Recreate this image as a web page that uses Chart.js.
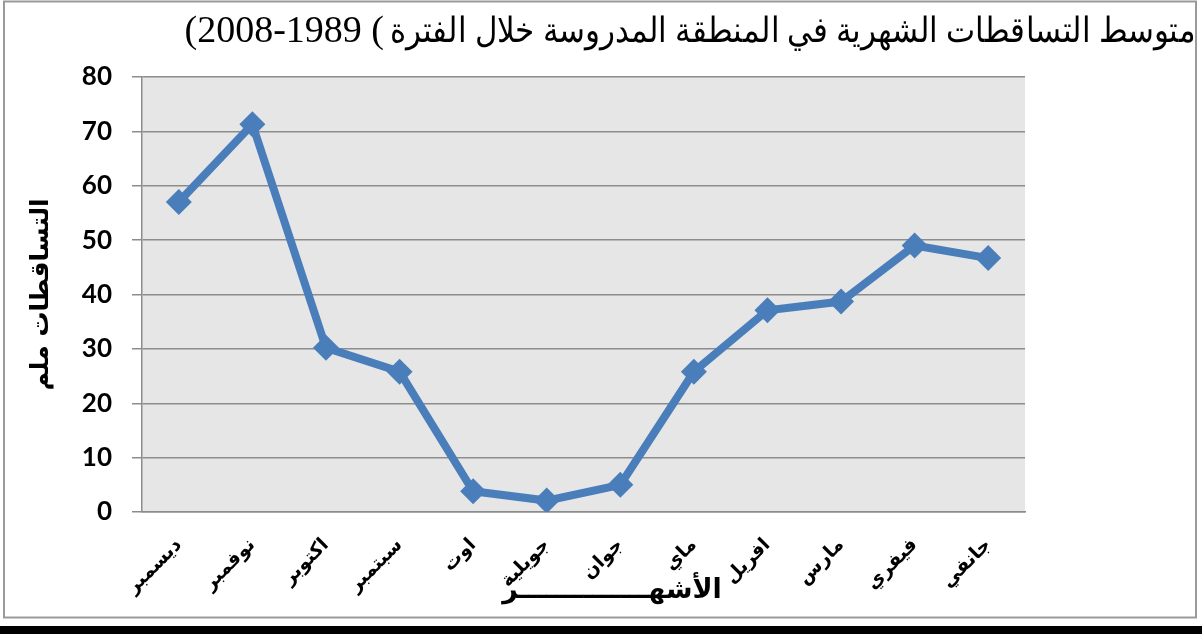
<!DOCTYPE html>
<html>
<head>
<meta charset="utf-8">
<script src="https://cdn.jsdelivr.net/npm/chart.js@4"></script>
<style>
html, body { margin: 0; padding: 0; background: #fff; }
canvas { display: block; }
</style>
</head>
<body>
<canvas id="chart" width="1202" height="634"></canvas>
<script>
// months as they appear left to right on the axis
const months = ['ديسمبر', 'نوفمبر', 'اكتوبر', 'سبتمبر', 'اوت', 'جويلية', 'جوان', 'ماي', 'افريل', 'مارس', 'فيفري', 'جانفي'];
// mean monthly rainfall (mm)
const rainfall = [57.0, 71.3, 30.2, 25.8, 3.8, 2.1, 5.0, 25.8, 37.1, 38.7, 49.0, 46.7];
const yMin = 0;
const yMax = 80;
const yStep = 10;

const titleArabic = 'متوسط التساقطات الشهرية في المنطقة المدروسة خلال الفترة';
// years part kept left-to-right with LRM marks so the brackets are not mirrored
const titleYears = '\u200E(2008-1989 (\u200E';
const yTitle = 'التساقطات ملم';
const xTitle = 'الأشهــــــــــــــر';

const lineBlue = '#4a7ebb';

// frame, plot background and the free-standing texts
const decorPlugin = {
    id: 'decor',
    beforeDraw(chart) {
        const ctx = chart.ctx;
        const a = chart.chartArea;
        ctx.save();
        ctx.fillStyle = '#e6e6e6';
        ctx.fillRect(a.left, a.top, a.right - a.left, a.bottom - a.top);
        ctx.strokeStyle = '#9a9a9a';
        ctx.lineWidth = 2;
        ctx.strokeRect(4, 1.5, 1192, 616);
        ctx.fillStyle = '#000';
        ctx.fillRect(0, 626, 1202, 8);
        ctx.restore();
    },
    afterDraw(chart) {
        const ctx = chart.ctx;
        const a = chart.chartArea;
        ctx.save();
        ctx.fillStyle = '#000';
        ctx.textBaseline = 'alphabetic';

        // title: arabic part squeezed a little to the width it takes in the picture
        ctx.font = '35px "Liberation Serif", "DejaVu Serif", serif';
        ctx.textAlign = 'right';
        const w = ctx.measureText(titleArabic).width;
        const arabicWidth = 806;
        ctx.save();
        ctx.translate(1196, 42);
        ctx.scale(Math.min(1, arabicWidth / w), 1);
        ctx.fillText(titleArabic, 0, 0);
        ctx.restore();
        ctx.font = '38px "Liberation Serif", serif';
        ctx.fillText(titleYears, 1196 - Math.min(w, arabicWidth) - 6, 42);

        // y axis title
        ctx.font = 'bold 25px "DejaVu Sans", sans-serif';
        ctx.textAlign = 'center';
        ctx.translate(48, (a.top + a.bottom) / 2);
        ctx.rotate(-Math.PI / 2);
        ctx.fillText(yTitle, 0, 0);
        ctx.restore();

        // x axis title
        ctx.save();
        ctx.font = 'bold 27px "DejaVu Sans", sans-serif';
        ctx.textAlign = 'center';
        ctx.fillStyle = '#000';
        ctx.fillText(xTitle, 612, 598);
        ctx.restore();
    }
};

new Chart(document.getElementById('chart'), {
    type: 'line',
    data: {
        labels: months,
        datasets: [{
            data: rainfall,
            borderColor: lineBlue,
            borderWidth: 8,
            tension: 0,
            pointStyle: 'rectRot',
            pointRadius: 13,
            pointBackgroundColor: lineBlue,
            pointBorderColor: lineBlue,
            pointBorderWidth: 0
        }]
    },
    options: {
        responsive: false,
        animation: false,
        layout: { padding: { left: 0, right: 177, top: 77, bottom: 0 } },
        plugins: {
            legend: { display: false },
            tooltip: { enabled: false }
        },
        scales: {
            x: {
                offset: true,
                grid: { display: false, drawTicks: false },
                border: { color: '#8c8c8c', width: 1.5 },
                ticks: {
                    color: '#000',
                    font: { family: '"DejaVu Sans", sans-serif', weight: 'bold', size: 19 },
                    minRotation: 45,
                    maxRotation: 45,
                    padding: 22,
                    autoSkip: false
                },
                afterFit(scale) { scale.height = 122; }
            },
            y: {
                min: yMin,
                max: yMax,
                ticks: {
                    stepSize: yStep,
                    color: '#000',
                    padding: 20,
                    font: { family: 'Lato, "DejaVu Sans", sans-serif', weight: 'bold', size: 26 }
                },
                grid: { color: '#8c8c8c', lineWidth: 1.5, tickLength: 10 },
                border: { color: '#8c8c8c', width: 1.5 },
                afterFit(scale) { scale.width = 142; }
            }
        }
    },
    plugins: [decorPlugin]
});
</script>
</body>
</html>
